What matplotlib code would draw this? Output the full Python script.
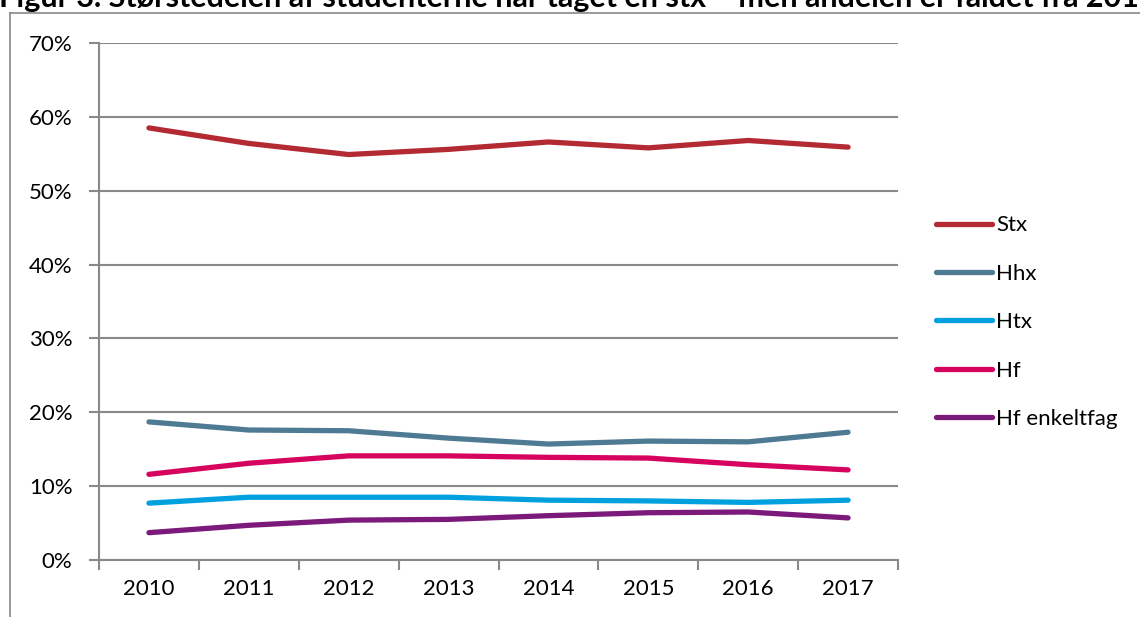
import matplotlib
matplotlib.use("Agg")
import matplotlib.pyplot as plt
from matplotlib.lines import Line2D
from matplotlib.ticker import PercentFormatter, MultipleLocator

plt.rcParams['font.family'] = ['Lato', 'DejaVu Sans']

# data (andel af studenter, %)
years = ['2010', '2011', '2012', '2013', '2014', '2015', '2016', '2017']
stx = [58.5, 56.4, 54.9, 55.6, 56.6, 55.8, 56.8, 55.9]
hhx = [18.7, 17.6, 17.5, 16.5, 15.7, 16.1, 16.0, 17.3]
htx = [7.7, 8.5, 8.5, 8.5, 8.1, 8.0, 7.8, 8.1]
hf = [11.6, 13.1, 14.1, 14.1, 13.9, 13.8, 12.9, 12.2]
hf_enkelt = [3.7, 4.7, 5.4, 5.5, 6.0, 6.4, 6.5, 5.7]

labels = ['Stx', 'Hhx', 'Htx', 'Hf', 'Hf enkeltfag']
colors = ['#B32A33', '#4F7A93', '#00A1DE', '#D6045E', '#7B1A7A']
series = [stx, hhx, htx, hf, hf_enkelt]

title = 'Figur 3. Størstedelen af studenterne har taget en stx – men andelen er faldet fra 2010'

W, H = 1140, 617
fig = plt.figure(figsize=(W / 100, H / 100), dpi=100)
ax = fig.add_axes([99 / W, 1 - 560 / H, (898 - 99) / W, (560 - 43) / H])

x = range(len(years))
for vals, lab, c in zip(series, labels, colors):
    ax.plot(x, vals, color=c, lw=3.8, label=lab, solid_capstyle='round')

grid_c = '#898989'
ax.set_ylim(0, 70)
ax.set_xlim(-0.5, len(years) - 0.5)
ax.yaxis.set_major_locator(MultipleLocator(10))
ax.yaxis.set_major_formatter(PercentFormatter(decimals=0))
ax.yaxis.grid(True, color=grid_c, lw=1.5)
ax.set_axisbelow(True)

# category ticks between years, labels centered
ax.set_xticks([i - 0.5 for i in range(len(years) + 1)])
ax.set_xticklabels([])
ax.set_xticks(list(x), minor=True)
ax.set_xticklabels(years, minor=True)
ax.tick_params(axis='x', which='minor', length=0, pad=14, labelsize=16)
ax.tick_params(axis='x', which='major', length=7, width=1.5, color=grid_c)
ax.tick_params(axis='y', length=7, width=1.5, color=grid_c, labelsize=16, pad=12)

for s in ['top', 'right']:
    ax.spines[s].set_visible(False)
for s in ['left', 'bottom']:
    ax.spines[s].set_color(grid_c)
    ax.spines[s].set_linewidth(1.5)

ax.legend(loc='center left', bbox_to_anchor=(1.037, 0.46), frameon=False,
          fontsize=16, handlelength=2.5, handletextpad=0.2, labelspacing=1.28,
          borderaxespad=0)

# outer chart frame (partially visible)
fig.add_artist(Line2D([10 / W, 1], [1 - 13 / H, 1 - 13 / H], color=grid_c, lw=1.2,
                      transform=fig.transFigure))
fig.add_artist(Line2D([10 / W, 10 / W], [0, 1 - 13 / H], color=grid_c, lw=1.2,
                      transform=fig.transFigure))

# title cut off by the top edge, as in the source
fig.text(-1 / W, 1 - 7 / H, title, fontsize=22, fontweight='bold', va='baseline', ha='left')

fig.savefig('out.png', dpi=100)
